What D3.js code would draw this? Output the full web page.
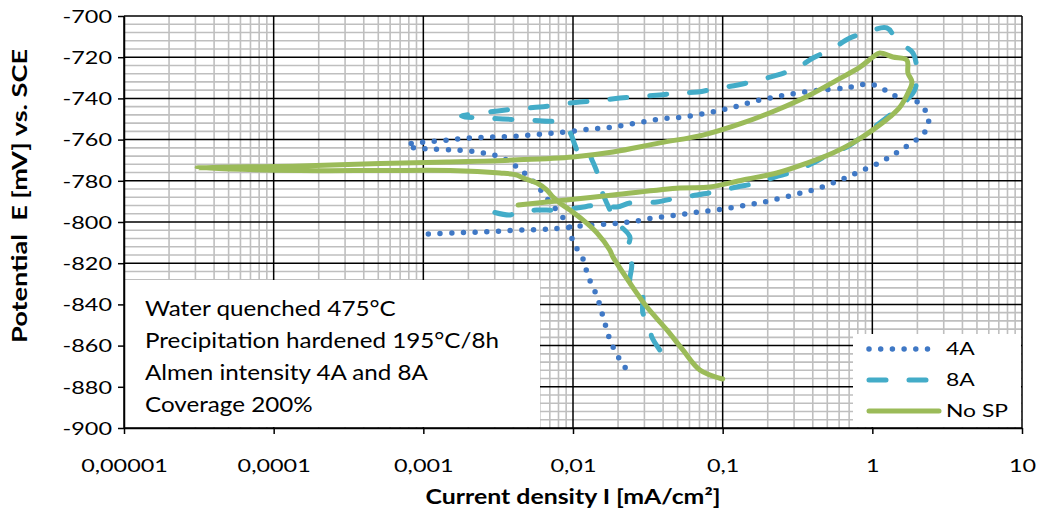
<!DOCTYPE html>
<html>
<head>
<meta charset="utf-8">
<script src="https://cdn.jsdelivr.net/npm/d3@7"></script>
<style>
  body { margin: 0; background: #fff; }
  svg text { font-family: Lato, "Open Sans", sans-serif; fill: #000; }
</style>
</head>
<body>
<script>
// axis ticks
const xTicks = [1e-5, 1e-4, 1e-3, 1e-2, 1e-1, 1, 10]
const xTickLabels = ['0,00001', '0,0001', '0,001', '0,01', '0,1', '1', '10']
const yTicks = [-900, -880, -860, -840, -820, -800, -780, -760, -740, -720, -700]

const seriesNames = ['4A', '8A', 'No SP']
const noteLines = ['Water quenched 475°C', 'Precipitation hardened 195°C/8h',
  'Almen intensity 4A and 8A', 'Coverage 200%']

// [current density mA/cm2, potential mV], in scan order
const data4A = [[0.00108,-805.8],[0.00158,-805.3],[0.00228,-804.9],[0.00325,-804.4],[0.0047,-803.9],
  [0.0068,-803.4],[0.0088,-802.9],[0.0115,-801.9],[0.0168,-801.0],[0.024,-800.0],[0.0342,-798.1],
  [0.0494,-796.6],[0.0704,-795.1],[0.1,-793.7],[0.145,-791.7],[0.204,-789.8],[0.294,-786.9],
  [0.42,-784.0],[0.589,-780.1],[0.813,-775.7],[1.14,-770.9],[1.55,-765.0],[2.11,-758.3],
  [2.35,-753.9],[2.35,-748.5],[2.14,-743.7],[1.84,-740.3],[1.53,-739.8],[1.31,-737.4],
  [1.12,-734.5],[0.933,-733.0],[0.787,-734.0],[0.655,-735.0],[0.46,-735.9],[0.318,-737.4],
  [0.223,-739.3],[0.157,-741.7],[0.112,-744.7],[0.0784,-747.1],[0.0542,-749.0],[0.038,-750.0],
  [0.0267,-751.9],[0.0185,-753.9],[0.013,-754.9],[0.0088,-756.3],[0.0062,-757.3],[0.0043,-758.3],
  [0.003,-758.7],[0.0021,-759.2],[0.00146,-760.2],[0.00103,-761.2],[0.00085,-761.6],[0.00078,-763.6],
  [0.00092,-764.1],[0.00111,-764.6],[0.00158,-765.0],[0.00228,-766.0],[0.00325,-768.4],[0.0044,-774.3],
  [0.0057,-782.0],[0.007,-790.3],[0.0088,-799.0],[0.0095,-802.4],[0.01,-809.7],[0.0116,-817.5],
  [0.0126,-826.2],[0.0145,-836.4],[0.0161,-847.6],[0.0179,-858.3],[0.0212,-868.4],[0.0236,-872.8]]

const data8A = [[0.038,-862.1],[0.0336,-855.8],[0.0327,-851.0],[0.0312,-847.6],[0.0293,-844.2],
  [0.0289,-834.5],[0.0259,-833.0],[0.024,-829.6],[0.0247,-820.9],[0.024,-817.0],[0.0229,-813.6],
  [0.024,-807.3],[0.0196,-800.0],[0.0168,-790.8],[0.0151,-782.0],[0.01445,-775.7],[0.0134,-769.9],
  [0.0124,-765.0],[0.0111,-767.5],[0.0103,-762.6],[0.0095,-756.3],[0.0082,-751.9],[0.0063,-751.0],
  [0.0049,-750.5],[0.0034,-750.0],[0.0025,-749.5],[0.0019,-749.0],[0.0018,-748.6],[0.00214,-747.6],
  [0.00315,-746.1],[0.0042,-745.1],[0.006,-744.2],[0.0078,-743.2],[0.0111,-741.7],[0.0145,-741.3],
  [0.0206,-739.8],[0.0267,-739.3],[0.038,-738.3],[0.0502,-737.4],[0.0683,-736.9],[0.093,-735.0],
  [0.126,-733.5],[0.172,-731.1],[0.234,-728.6],[0.313,-725.2],[0.401,-720.4],[0.537,-716.0],
  [0.708,-710.7],[0.933,-707.8],[1.25,-705.8],[1.48,-712.6],[1.87,-718.0],[1.98,-727.7],
  [1.92,-735.9],[1.7,-740.8],[1.53,-744.2],[1.12,-751.9],[0.918,-756.8],[0.676,-763.6],
  [0.545,-766.0],[0.401,-771.4],[0.294,-775.7],[0.223,-778.2],[0.169,-781.1],[0.1245,-783.0],
  [0.0887,-785.4],[0.0673,-786.9],[0.0494,-788.3],[0.0363,-790.3],[0.024,-790.8],[0.0196,-792.7],
  [0.0151,-791.7],[0.0106,-793.2],[0.0078,-794.2],[0.0057,-794.2],[0.0042,-795.1],[0.0038,-796.6],
  [0.0029,-795.1]]

const dataNoSP = [[0.0043,-791.7],[0.0067,-790.3],[0.0185,-786.9],[0.0518,-783.5],[0.0822,-783.0],
  [0.1365,-779.6],[0.23,-776.2],[0.366,-771.4],[0.545,-766.5],[0.741,-761.6],[1.01,-755.3],
  [1.31,-749.0],[1.53,-744.2],[1.73,-737.4],[1.84,-732.0],[1.73,-727.7],[1.7,-721.4],[1.37,-719.9],
  [1.12,-718.0],[1.01,-719.9],[0.826,-724.8],[0.58,-731.1],[0.383,-738.3],[0.23,-745.6],
  [0.1365,-751.9],[0.0738,-757.8],[0.038,-761.6],[0.0185,-766.0],[0.01,-768.4],[0.004,-769.9],
  [0.00144,-770.9],[0.000513,-771.6],[0.00015,-772.8],[0.0000308,-773.8],
  [0.00015,-775.0],[0.000513,-775.0],[0.00151,-775.0],[0.00325,-776.2],[0.00422,-777.2],
  [0.00462,-778.6],[0.00574,-781.1],[0.0067,-784.5],[0.00735,-787.9],[0.00818,-790.8],
  [0.00953,-794.2],[0.01164,-799.0],[0.01445,-805.3],[0.0176,-813.6],[0.0185,-817.0],
  [0.024,-829.6],[0.0312,-841.3],[0.0424,-852.4],[0.0542,-862.1],[0.0704,-871.8],[0.1,-876.2]]

const w = 1038
const h = 515
const m = {left: 124, top: 16, right: 1022, bottom: 428}

const svg = d3.select('body').append('svg')
  .attr('width', w)
  .attr('height', h)

const x = d3.scaleLog().domain([1e-5, 10]).range([m.left, m.right])
const y = d3.scaleLinear().domain([-900, -700]).range([m.bottom, m.top])

// minor grid
const minorX = []
for (let e = -5; e < 1; e++) for (let k = 2; k <= 9; k++) minorX.push(k * Math.pow(10, e))
const minorY = d3.range(-900, -699, 4).filter(v => v % 20 !== 0)

const grid = svg.append('g')
grid.selectAll('.mx').data(minorX).enter().append('line')
  .attr('x1', d => x(d)).attr('x2', d => x(d))
  .attr('y1', m.top).attr('y2', m.bottom)
  .attr('stroke', '#bfbfbf').attr('stroke-width', 1.6)
grid.selectAll('.my').data(minorY).enter().append('line')
  .attr('x1', m.left).attr('x2', m.right)
  .attr('y1', d => y(d)).attr('y2', d => y(d))
  .attr('stroke', '#bfbfbf').attr('stroke-width', 1.6)
grid.selectAll('.Mx').data(xTicks).enter().append('line')
  .attr('x1', d => x(d)).attr('x2', d => x(d))
  .attr('y1', m.top).attr('y2', m.bottom)
  .attr('stroke', '#000').attr('stroke-width', 1.5)
grid.selectAll('.My').data(yTicks).enter().append('line')
  .attr('x1', m.left).attr('x2', m.right)
  .attr('y1', d => y(d)).attr('y2', d => y(d))
  .attr('stroke', '#000').attr('stroke-width', 1.5)

// note box
const note = svg.append('g')
note.append('rect')
  .attr('x', m.left + 1).attr('y', 280)
  .attr('width', 415).attr('height', m.bottom - 281)
  .attr('fill', '#fff')
note.selectAll('text').data(noteLines).enter().append('text')
  .attr('x', 145)
  .attr('y', (d, i) => 316 + i * 32)
  .attr('data-k', 1.1)
  .style('font-size', '22px')
  .text(d => d)

// axes
const xAxis = d3.axisBottom(x).tickValues(xTicks)
  .tickFormat((d, i) => xTickLabels[i]).tickSize(6).tickSizeOuter(0)
const yAxis = d3.axisLeft(y).tickValues(yTicks)
  .tickFormat(d => String(d)).tickSize(6).tickSizeOuter(0)

const gx = svg.append('g').attr('transform', `translate(0,${m.bottom})`).call(xAxis)
const gy = svg.append('g').attr('transform', `translate(${m.left},0)`).call(yAxis)
;[gx, gy].forEach(g => {
  g.select('.domain').attr('stroke', '#000').attr('stroke-width', 1.5)
  g.selectAll('.tick line').attr('stroke', '#000').attr('stroke-width', 1.5)
  g.selectAll('.tick text').attr('data-k', 1.3)
    .style('font-family', 'Lato, sans-serif').style('font-size', '18px').attr('fill', '#000')
})
gx.selectAll('.tick text').attr('dy', null).attr('y', 44)
gy.selectAll('.tick text').attr('dy', '0.35em').attr('x', -12)

// series
const line = d3.line()
  .x(d => x(d[0]))
  .y(d => y(d[1]))
  .curve(d3.curveCatmullRom.alpha(0.5))

const styles = [
  {data: data4A, color: '#3f78c5', width: 5.5, dash: '0 11.7'},
  {data: data8A, color: '#43acc8', width: 5, dash: '17 23'},
  {data: dataNoSP, color: '#9bbb59', width: 5, dash: null}
]

svg.append('g').selectAll('path').data(styles).enter().append('path')
  .attr('d', d => line(d.data))
  .attr('fill', 'none')
  .attr('stroke', d => d.color)
  .attr('stroke-width', d => d.width)
  .attr('stroke-linecap', 'round')
  .attr('stroke-linejoin', 'round')
  .attr('stroke-dasharray', d => d.dash)

// legend
const lg = svg.append('g')
lg.append('rect')
  .attr('x', 853).attr('y', 334)
  .attr('width', 168).attr('height', m.bottom - 335)
  .attr('fill', '#fff')
const items = lg.selectAll('.item').data(styles).enter().append('g')
  .attr('transform', (d, i) => `translate(0,${349 + i * 31})`)
items.append('line')
  .attr('x1', 869).attr('x2', 939)
  .attr('stroke', d => d.color)
  .attr('stroke-width', d => d.width)
  .attr('stroke-linecap', 'round')
  .attr('stroke-dasharray', d => d.dash)
items.append('text')
  .attr('x', 946).attr('dy', '0.35em')
  .attr('data-k', 1.27)
  .style('font-size', '18px')
  .text((d, i) => seriesNames[i])

// axis titles
svg.append('text')
  .attr('x', (m.left + m.right) / 2).attr('y', 504)
  .attr('text-anchor', 'middle')
  .attr('data-w', 295)
  .style('font-size', '20px').style('font-weight', 'bold')
  .text('Current density I [mA/cm²]')
svg.append('text')
  .attr('transform', 'translate(27,196) rotate(-90)')
  .attr('text-anchor', 'middle')
  .attr('data-w', 294)
  .style('font-size', '20px').style('font-weight', 'bold')
  .style('white-space', 'pre')
  .text('Potential  E [mV] vs. SCE')

// the reference lettering is wider than Lato, so widen text horizontally
svg.selectAll('text').each(function() {
  const t = d3.select(this)
  const k = t.attr('data-k'), tw = t.attr('data-w')
  if (!k && !tw) return
  const len = tw ? +tw : this.getComputedTextLength() * k
  t.attr('textLength', len).attr('lengthAdjust', 'spacingAndGlyphs')
})
</script>
</body>
</html>
